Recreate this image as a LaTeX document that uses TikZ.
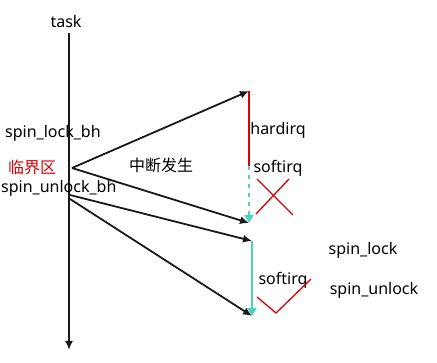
\documentclass[tikz,border=0pt]{standalone}
\usepackage{fontspec}
\setmainfont{Noto Sans}
\newfontfamily\cjk{Noto Sans CJK SC}
\usetikzlibrary{arrows.meta}
\begin{document}
\begin{tikzpicture}[x=1pt,y=-1pt,
  lbl/.style={inner sep=0pt,font=\fontsize{16}{18}\selectfont},
  blk/.style={draw=black!90,line width=1.8pt,-{Latex[length=9pt,width=8pt]}},
  redl/.style={draw=red!85!black,line width=1.6pt}]
\useasboundingbox (0,0) rectangle (437,363);
\definecolor{cyanc}{RGB}{80,210,195}
\node[lbl] (task) at (66,22) {task};
\coordinate (top) at (69,33);
\coordinate (bot) at (69,350);
\draw[blk] (top) -- (bot);
\node[lbl,anchor=west] (lockbh) at (5,133) {spin\_lock\_bh};
\node[lbl,anchor=west,text=red!85!black] (crit) at (8,167) {\cjk 临界区};
\node[lbl] (irq) at (161,165) {\cjk 中断发生};
\node[lbl,anchor=west] (unlockbh) at (1,188) {spin\_unlock\_bh};
\coordinate (s1) at (72,168);
\coordinate (s2) at (70,195);
\coordinate (s3) at (70,199);
\coordinate (h1) at (249,91);
\coordinate (h2) at (249,166);
\coordinate (h3) at (249,223);
\coordinate (g1) at (252,241);
\coordinate (g2) at (252,316);
\draw[blk] (s1) -- (h1);
\draw[blk] (s1) -- (h3);
\draw[blk] (s2) -- (g1);
\draw[blk] (s3) -- (g2);
\draw[redl] (h1) -- (h2);
\draw[draw=cyanc,line width=1.8pt,dash pattern=on 4pt off 5pt,-{Triangle[length=8pt,width=9pt,fill=cyanc]}] (h2) -- (h3);
\draw[draw=cyanc,line width=1.8pt,-{Triangle[length=8pt,width=9pt,fill=cyanc]}] (g1) -- (g2);
\node[lbl] (hard) at (278,130) {hardirq};
\node[lbl] (soft1) at (278,168) {softirq};
\node[lbl] (soft2) at (283,280) {softirq};
\node[lbl] (lock) at (363,250) {spin\_lock};
\node[lbl] (unlock) at (374,290) {spin\_unlock};
\coordinate (xa) at (256,214);
\coordinate (xb) at (289,179);
\coordinate (xc) at (257,179);
\coordinate (xd) at (293,215);
\draw[redl,line width=1.3pt] (xa) -- (xb);
\draw[redl,line width=1.3pt] (xc) -- (xd);
\coordinate (ca) at (257,297);
\coordinate (cb) at (276,313);
\coordinate (cc) at (311,279);
\draw[redl,line width=1.3pt] (ca) -- (cb) -- (cc);
\end{tikzpicture}
\end{document}
